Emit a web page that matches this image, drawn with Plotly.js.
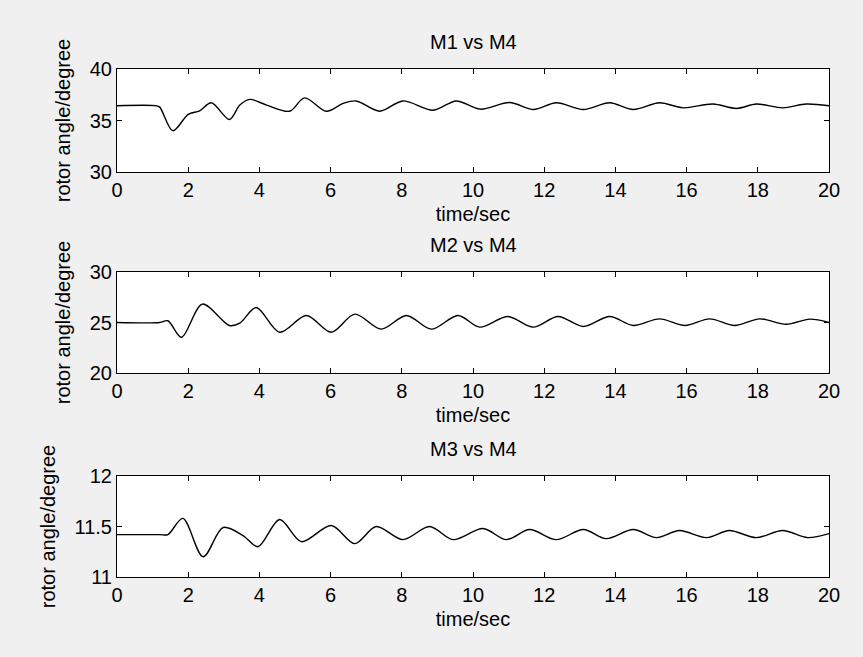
<!DOCTYPE html>
<html><head><meta charset="utf-8">
<script src="https://cdn.plot.ly/plotly-3.0.1.min.js"></script>
<style>html,body{margin:0;padding:0;background:#f0f0f0}#c{width:863px;height:657px}</style>
</head><body><div id="c"></div>
<script>
// M1 vs M4
const t1 = [0, 1.1, 1.2, 1.57, 2.0, 2.32, 2.65, 3.16, 3.45, 3.73, 4.2, 4.85, 5.27, 5.88, 6.35, 6.72, 7.38, 8.03, 8.88, 9.53, 10.2, 11.03, 11.7, 12.34, 13.1, 13.84, 14.5, 15.24, 15.9, 16.74, 17.4, 17.96, 18.7, 19.36, 20];
const v1 = [36.43, 36.43, 36.3, 34.0, 35.6, 35.94, 36.72, 35.1, 36.5, 37.05, 36.5, 35.9, 37.2, 35.9, 36.66, 36.9, 35.9, 36.9, 36.0, 36.9, 36.1, 36.75, 36.07, 36.72, 36.07, 36.72, 36.07, 36.72, 36.23, 36.6, 36.17, 36.6, 36.23, 36.6, 36.43];
// M2 vs M4
const t2 = [0, 1.2, 1.43, 1.81, 2.4, 3.16, 3.45, 3.91, 4.57, 5.32, 6.02, 6.68, 7.42, 8.13, 8.83, 9.58, 10.19, 10.98, 11.69, 12.39, 13.1, 13.84, 14.5, 15.24, 15.95, 16.65, 17.35, 18.05, 18.8, 19.46, 20];
const v2 = [25.0, 25.0, 25.17, 23.54, 26.82, 24.7, 24.93, 26.49, 24.04, 25.7, 24.04, 25.83, 24.34, 25.7, 24.34, 25.7, 24.54, 25.6, 24.54, 25.6, 24.6, 25.6, 24.7, 25.36, 24.7, 25.36, 24.7, 25.36, 24.83, 25.33, 25.0];
// M3 vs M4
const t3 = [0, 1.2, 1.43, 1.85, 2.42, 2.98, 3.54, 3.96, 4.57, 5.18, 6.02, 6.68, 7.28, 8.03, 8.78, 9.44, 10.28, 10.94, 11.59, 12.34, 13.1, 13.74, 14.5, 15.15, 15.8, 16.56, 17.2, 17.95, 18.7, 19.4, 20];
const v3 = [11.42, 11.42, 11.42, 11.58, 11.2, 11.49, 11.41, 11.3, 11.57, 11.35, 11.51, 11.33, 11.5, 11.37, 11.5, 11.37, 11.48, 11.37, 11.47, 11.37, 11.47, 11.38, 11.47, 11.39, 11.46, 11.39, 11.46, 11.39, 11.46, 11.39, 11.43];

const titles = ["M1 vs M4", "M2 vs M4", "M3 vs M4"];
const xTitle = "time/sec";
const yTitle = "rotor angle/degree";
const xTicks = [0, 2, 4, 6, 8, 10, 12, 14, 16, 18, 20];
const yRanges = [[30, 40], [20, 30], [11, 12]];
const yTicks = [[30, 35, 40], [20, 25, 30], [11, 11.5, 12]];
const yTickText = [["30", "35", "40"], ["20", "25", "30"], ["11", "11.5", "12"]];

const W = 863, H = 657;
const font = {family: "Liberation Sans, Arial, sans-serif", size: 20, color: "#000"};
const xdom = [117 / W, 829 / W];
const ypix = [[69, 172], [272, 373], [476, 577]];
const ts = [t1, t2, t3], vs = [v1, v2, v3];

const data = [];
const layout = {
  width: W, height: H, margin: {l: 0, r: 0, t: 0, b: 0},
  paper_bgcolor: "#f0f0f0", plot_bgcolor: "#ffffff",
  showlegend: false, font: font, annotations: []
};
for (let i = 0; i < 3; i++) {
  const s = i === 0 ? "" : String(i + 1);
  data.push({x: ts[i], y: vs[i], type: "scatter", mode: "lines",
    line: {color: "#000", width: 1.4, shape: "spline", smoothing: 0.9},
    xaxis: "x" + s, yaxis: "y" + s, hoverinfo: "skip"});
  const axCommon = {showline: true, linecolor: "#000", linewidth: 1, mirror: "ticks",
    ticks: "inside", ticklen: 5, tickcolor: "#000", showgrid: false, zeroline: false,
    tickfont: font};
  layout["xaxis" + s] = Object.assign({}, axCommon, {
    domain: xdom, range: [0, 20], tickvals: xTicks, anchor: "y" + s,
    title: {text: xTitle, font: font, standoff: 6}});
  layout["yaxis" + s] = Object.assign({}, axCommon, {
    domain: [1 - ypix[i][1] / H, 1 - ypix[i][0] / H], range: yRanges[i],
    tickvals: yTicks[i], ticktext: yTickText[i], anchor: "x" + s,
    title: {text: yTitle, font: font, standoff: 13}});
  layout.annotations.push({text: titles[i], xref: "paper", yref: "paper",
    x: (xdom[0] + xdom[1]) / 2, y: 1 - (ypix[i][0] - 14) / H, xanchor: "center", yanchor: "bottom",
    showarrow: false, font: font});
}
Plotly.newPlot("c", data, layout, {staticPlot: true});
</script>
</body></html>
